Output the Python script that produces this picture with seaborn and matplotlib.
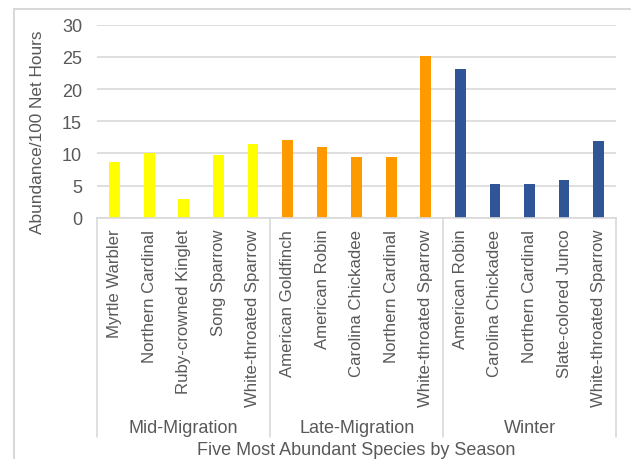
import matplotlib
matplotlib.use("Agg")
import matplotlib.pyplot as plt
import matplotlib.transforms as mtransforms
from matplotlib.lines import Line2D
from matplotlib.patches import Rectangle
import seaborn as sns
import pandas as pd

# Data: five most abundant species per season (abundance per 100 net hours)
seasons = ["Mid-Migration", "Late-Migration", "Winter"]
mid_species = ["Myrtle Warbler", "Northern Cardinal", "Ruby-crowned Kinglet",
               "Song Sparrow", "White-throated Sparrow"]
mid_values = [8.6, 10.1, 2.9, 9.8, 11.4]
late_species = ["American Goldfinch", "American Robin", "Carolina Chickadee",
                "Northern Cardinal", "White-throated Sparrow"]
late_values = [12.0, 11.0, 9.5, 9.5, 25.1]
winter_species = ["American Robin", "Carolina Chickadee", "Northern Cardinal",
                  "Slate-colored Junco", "White-throated Sparrow"]
winter_values = [23.1, 5.2, 5.2, 5.9, 11.9]
season_colors = ["#FFFF00", "#FF9900", "#2F5597"]
y_ticks = [0, 5, 10, 15, 20, 25, 30]

species = mid_species + late_species + winter_species
values = mid_values + late_values + winter_values
season_col = ([seasons[0]] * len(mid_species) + [seasons[1]] * len(late_species)
              + [seasons[2]] * len(winter_species))
slots = [str(i) for i in range(len(species))]
df = pd.DataFrame({"slot": slots, "species": species, "value": values,
                   "season": season_col})

sns.set_theme(style="white")
plt.rcParams["font.family"] = ["Liberation Sans", "DejaVu Sans"]
text_color = "#595959"
line_color = "#D9D9D9"
fs = 13
fs_species = 12.1

fig = plt.figure(figsize=(6.31, 4.60), dpi=100)
ax = fig.add_axes([0.1542, 0.5246, 0.8220, 0.4195])

sns.barplot(data=df, x="slot", y="value", hue="season", order=slots,
            hue_order=seasons, palette=season_colors, dodge=False,
            width=0.31, legend=False, ax=ax, linewidth=0, saturation=1)

ax.set_xlim(-0.5, len(species) - 0.5)
ax.set_ylim(0, 30)
ax.set_yticks(y_ticks)
ax.set_yticklabels([str(t) for t in y_ticks])
ax.yaxis.grid(True, color=line_color, linewidth=1.2)
ax.set_axisbelow(True)
for side in ["left", "right", "top"]:
    ax.spines[side].set_visible(False)
ax.spines["bottom"].set_color(line_color)
ax.spines["bottom"].set_linewidth(1.2)

ax.tick_params(axis="y", length=0, pad=11, labelsize=fs, labelcolor=text_color)
ax.tick_params(axis="x", length=0, pad=8, labelsize=fs_species,
               labelcolor=text_color)
ax.set_xticks(range(len(species)))
ax.set_xticklabels(species, rotation=90, va="top", ha="center")

ax.set_xlabel("")
ax.set_ylabel("Abundance/100 Net Hours", color=text_color, fontsize=12.4)
ax.yaxis.set_label_coords(-0.101, 0.45)

# Group separators and season labels beneath the species labels
trans = mtransforms.blended_transform_factory(ax.transData, ax.transAxes)
sep_bottom = -1.137
for xpos in [-0.5, 4.5, 9.5, 14.5]:
    ax.add_line(Line2D([xpos, xpos], [0, sep_bottom], transform=trans,
                       color=line_color, linewidth=1.2, clip_on=False))
group_size = len(mid_species)
for gi, season in enumerate(seasons):
    center = gi * group_size + (group_size - 1) / 2
    ax.text(center, -1.085, season, transform=trans, ha="center", va="center",
            fontsize=fs, color=text_color)

fig.text(0.5651, 1 - 451 / 460, "Five Most Abundant Species by Season",
         ha="center", va="center", fontsize=fs, color=text_color)

# Chart-area frame
fig.patches.append(Rectangle((14 / 631, -0.05), 1.2, 1 - 9.5 / 460 + 0.05,
                             transform=fig.transFigure, fill=False,
                             edgecolor=line_color, linewidth=1.5))

fig.savefig("out.png", dpi=100)
